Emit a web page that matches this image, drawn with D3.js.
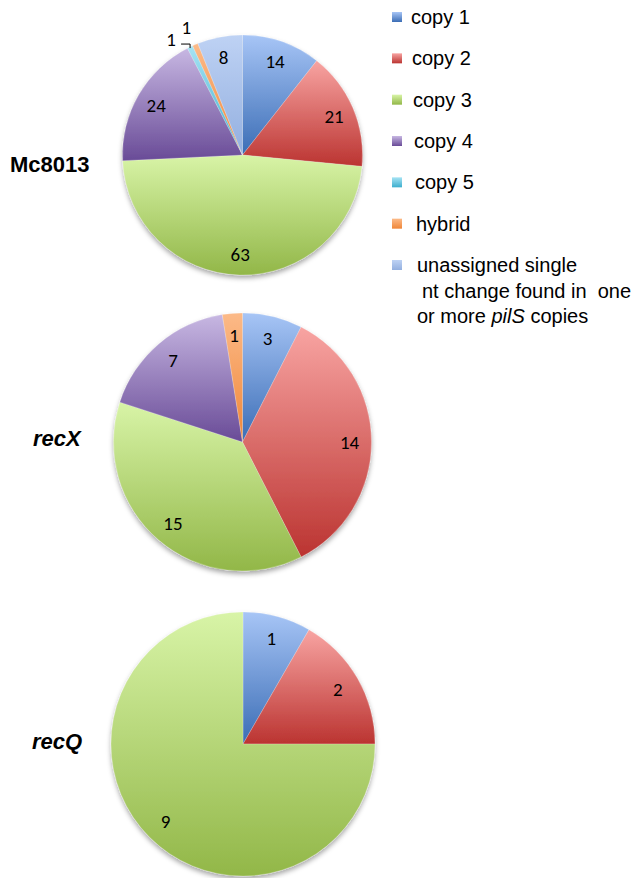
<!DOCTYPE html>
<html>
<head>
<meta charset="utf-8">
<script src="https://cdn.jsdelivr.net/npm/d3@7"></script>
<style>
  body { margin: 0; background: #fff; }
  svg { display: block; }
</style>
</head>
<body>
<div id="chart"></div>
<script>
// categories and colours (top / bottom of each gradient)
var categories = ["copy 1", "copy 2", "copy 3", "copy 4", "copy 5", "hybrid", "unassigned"];
var topColors = ["#a7c5f6", "#f8a4a2", "#d8f4a7", "#c7b7e2", "#a6e3f4", "#fcba88", "#bed2f4"];
var bottomColors = ["#3b6db5", "#bb3431", "#92b748", "#694b97", "#3daecd", "#ef8638", "#93afdf"];

// counts per strain, same order as categories
var strains = ["Mc8013", "recX", "recQ"];
var mc8013Values = [14, 21, 63, 24, 1, 1, 8];
var recXValues = [3, 14, 15, 7, 0, 1, 0];
var recQValues = [1, 2, 9, 0, 0, 0, 0];
var allValues = [mc8013Values, recXValues, recQValues];

var svgWidth = 644;
var svgHeight = 878;

var svg = d3.select("#chart")
    .append("svg")
    .attr("width", svgWidth)
    .attr("height", svgHeight);

var defs = svg.append("defs");

// one vertical gradient per category, bounding box of each slice
categories.forEach(function(c, i) {
    var g = defs.append("linearGradient")
        .attr("id", "grad" + i)
        .attr("x1", 0).attr("y1", 0)
        .attr("x2", 0).attr("y2", 1);
    g.append("stop").attr("offset", "0%").attr("stop-color", topColors[i]);
    g.append("stop").attr("offset", "100%").attr("stop-color", bottomColors[i]);
});

var shadow = defs.append("filter")
    .attr("id", "shadow")
    .attr("x", "-10%").attr("y", "-10%")
    .attr("width", "120%").attr("height", "125%");
shadow.append("feDropShadow")
    .attr("dx", 0).attr("dy", 3)
    .attr("stdDeviation", 2.5)
    .attr("flood-color", "#000")
    .attr("flood-opacity", 0.35);

// pie layout: centres and radii
var pies = [
    { cx: 242.5, cy: 155, r: 120, labelX: 10, labelY: 172, italic: false },
    { cx: 242.5, cy: 442, r: 129, labelX: 33, labelY: 446, italic: true },
    { cx: 243, cy: 744, r: 132, labelX: 32, labelY: 749, italic: true }
];

var labelFont = "Carlito, Lato, sans-serif";
var labelSize = "19px";

var pie = d3.pie()
    .sort(null)
    .value(d => d.value);

pies.forEach(function(p, k) {
    var data = allValues[k].map(function(v, i) { return { value: v, index: i }; });
    var arcs = pie(data).filter(d => d.data.value > 0);
    var total = d3.sum(allValues[k]);

    var arc = d3.arc().innerRadius(0).outerRadius(p.r);
    var labelArc = d3.arc().innerRadius(p.r * 0.83).outerRadius(p.r * 0.83);
    var edgeArc = d3.arc().innerRadius(p.r).outerRadius(p.r);

    var g = svg.append("g")
        .attr("transform", `translate(${p.cx}, ${p.cy})`);

    g.append("g")
        .attr("filter", "url(#shadow)")
        .selectAll("path")
        .data(arcs)
        .enter()
        .append("path")
        .attr("d", arc)
        .attr("fill", d => "url(#grad" + d.data.index + ")")
        .attr("stroke", "rgba(255,255,255,0.35)")
        .attr("stroke-width", 0.6);

    // labels inside big slices
    g.selectAll("text.inside")
        .data(arcs.filter(d => d.data.value / total > 0.02))
        .enter()
        .append("text")
        .attr("class", "inside")
        .attr("transform", d => `translate(${labelArc.centroid(d)})`)
        .attr("text-anchor", "middle")
        .attr("dy", "0.36em")
        .style("font-family", labelFont)
        .style("font-size", labelSize)
        .style("fill", "#000")
        .text(d => d.data.value);

    // tiny slices get outside labels
    var small = arcs.filter(d => d.data.value / total <= 0.02);
    small.forEach(function(d, j) {
        var e = edgeArc.centroid(d);
        if (j === 0) {
            g.append("path")
                .attr("d", `M${e[0]},${e[1] + 1} V${e[1] - 3} H${e[0] - 9}`)
                .attr("fill", "none")
                .attr("stroke", "#000")
                .attr("stroke-width", 1);
            g.append("text")
                .attr("x", e[0] - 19)
                .attr("y", e[1] - 1)
                .attr("text-anchor", "middle")
                .style("font-family", labelFont)
                .style("font-size", labelSize)
                .text(d.data.value);
        } else {
            g.append("text")
                .attr("x", e[0] - 9)
                .attr("y", e[1] - 11)
                .attr("text-anchor", "middle")
                .style("font-family", labelFont)
                .style("font-size", labelSize)
                .text(d.data.value);
        }
    });

    // strain name
    svg.append("text")
        .attr("x", p.labelX)
        .attr("y", p.labelY)
        .style("font-family", "'Liberation Sans', Arial, sans-serif")
        .style("font-size", "22px")
        .style("font-weight", "bold")
        .style("font-style", p.italic ? "italic" : "normal")
        .text(strains[k]);
});

// legend
var legendY = d3.scaleLinear().domain([0, 6]).range([17, 265]);

var legend = svg.append("g");

legend.selectAll("rect")
    .data(categories)
    .enter()
    .append("rect")
    .attr("x", 392)
    .attr("y", (d, i) => legendY(i) - 5)
    .attr("width", 10)
    .attr("height", 10)
    .attr("fill", (d, i) => "url(#grad" + i + ")");

var legendText = legend.selectAll("text")
    .data(categories)
    .enter()
    .append("text")
    .attr("x", (d, i) => 411 + i)
    .attr("y", (d, i) => legendY(i) + 7)
    .style("font-family", "'Liberation Sans', Arial, sans-serif")
    .style("font-size", "20px")
    .style("fill", "#000");

legendText.filter(d => d !== "unassigned").text(d => d);

var unassigned = legendText.filter(d => d === "unassigned");
unassigned.append("tspan").text("unassigned single");
unassigned.append("tspan")
    .attr("x", 422).attr("dy", 25.5)
    .attr("xml:space", "preserve")
    .style("white-space", "pre")
    .text("nt change found in  one");
var line3 = unassigned.append("tspan")
    .attr("x", 417).attr("dy", 25.5);
line3.append("tspan").text("or more ");
line3.append("tspan").style("font-style", "italic").text("pilS");
line3.append("tspan").text(" copies");
</script>
</body>
</html>
